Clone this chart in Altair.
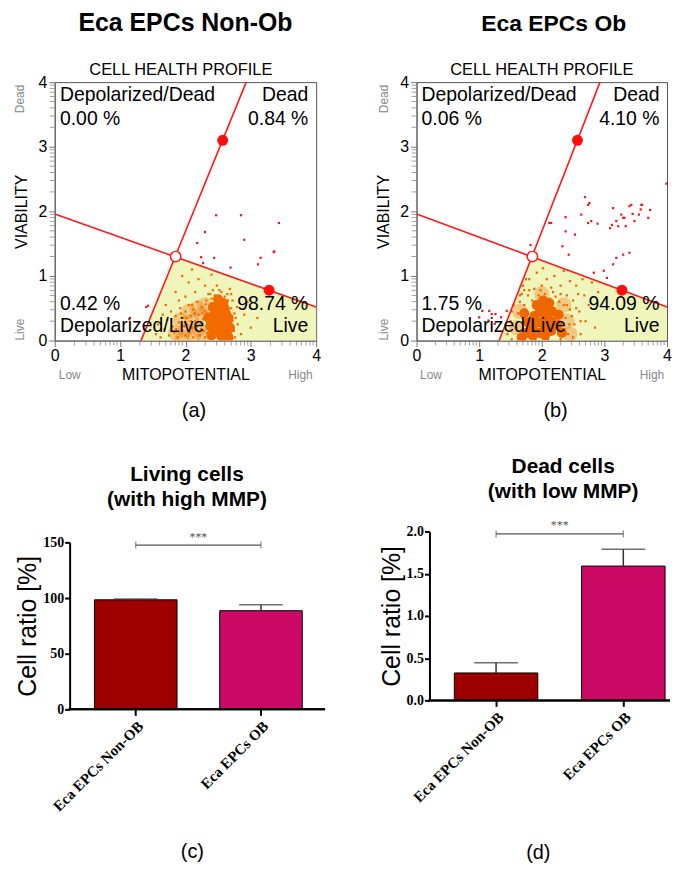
import altair as alt
import pandas as pd

SANS = "Liberation Sans"
SERIF = "Liberation Serif"

# ---------------- (a) / (b) : cell health profile ----------------
axis_values = [0, 1, 2, 3, 4]
minor_offsets = [0.301, 0.477, 0.602, 0.699, 0.778, 0.845, 0.903, 0.954]
minor_ticks = [k + m for k in [0, 1, 2, 3] for m in minor_offsets]

gate_id = ["h", "h", "v", "v"]
gate_x = [0.00, 4.00, 1.32, 2.93]
gate_y = [1.96, 0.52, 0.00, 4.00]
live_x = [1.32, 1.85, 4.00]
live_y = [0.00, 1.30, 0.52]
handle_x = [2.57, 3.28]
handle_y = [3.10, 0.78]
cross_x = [1.85]
cross_y = [1.30]

quad_names = ["Depolarized/Dead", "Dead", "Depolarized/Live", "Live"]
quad_x = [0.08, 3.88, 0.08, 3.88]
quad_align = ["left", "right", "left", "right"]
name_y = [3.80, 3.80, 0.23, 0.23]
pct_y = [3.43, 3.43, 0.56, 0.56]
pct_a = ["0.00 %", "0.84 %", "0.42 %", "98.74 %"]
pct_b = ["0.06 %", "4.10 %", "1.75 %", "94.09 %"]

# dense core of live cells (a)
a_core = [(2.55, 0.07), (2.55, 0.20), (2.55, 0.33), (2.56, 0.46), (2.58, 0.58), (2.47, 0.14),
          (2.46, 0.28), (2.45, 0.42), (2.63, 0.12), (2.63, 0.27), (2.62, 0.42), (2.40, 0.08),
          (2.38, 0.22), (2.66, 0.05), (2.50, 0.64), (2.35, 0.36), (2.52, 0.52), (2.60, 0.50),
          (2.42, 0.52), (2.68, 0.20), (2.66, 0.35), (2.50, 0.38), (2.58, 0.25)]
a_halo = [(2.00, 0.15), (2.10, 0.30), (2.20, 0.18), (2.25, 0.40), (2.12, 0.08), (1.92, 0.32),
          (2.28, 0.05), (2.05, 0.45), (1.85, 0.12), (2.30, 0.55), (2.18, 0.50), (1.95, 0.05)]
a_live = [(1.62, 0.05), (1.68, 0.18), (1.72, 0.32), (1.75, 0.08), (1.78, 0.45), (1.80, 0.22),
          (1.83, 0.12), (1.85, 0.38), (1.88, 0.05), (1.90, 0.28), (1.92, 0.50), (1.95, 0.15),
          (1.97, 0.35), (2.00, 0.08), (2.00, 0.45), (2.02, 0.25), (2.05, 0.55), (2.06, 0.12),
          (2.08, 0.38), (2.10, 0.20), (2.12, 0.05), (2.12, 0.48), (2.15, 0.30), (2.17, 0.15),
          (2.18, 0.60), (2.20, 0.40), (2.22, 0.08), (2.23, 0.25), (2.25, 0.52), (2.27, 0.33),
          (2.28, 0.15), (2.30, 0.45), (2.30, 0.05), (2.32, 0.62), (2.33, 0.28), (2.35, 0.72),
          (2.36, 0.50), (2.40, 0.65), (2.42, 0.78), (2.45, 0.70), (2.48, 0.85), (2.55, 0.75),
          (2.60, 0.68), (2.65, 0.62), (2.70, 0.50), (2.72, 0.30), (2.74, 0.15), (2.75, 0.42),
          (2.80, 0.25), (2.85, 0.10), (2.70, 0.72), (2.30, 0.85), (2.15, 0.75), (2.00, 0.68),
          (1.90, 0.62), (1.85, 0.75), (2.05, 0.90), (2.20, 0.95), (1.95, 1.00), (2.10, 1.10),
          (2.40, 1.02), (1.70, 0.55), (1.65, 0.40), (1.58, 0.25), (1.55, 0.10), (2.90, 0.40),
          (3.00, 0.20), (3.10, 0.35), (2.95, 0.60), (1.93, 0.42), (2.08, 0.30), (2.18, 0.22),
          (2.26, 0.42), (2.02, 0.35), (1.86, 0.18), (2.14, 0.42), (2.24, 0.18), (1.98, 0.22),
          (2.10, 0.55), (2.34, 0.38), (2.77, 0.35), (2.76, 0.05), (2.72, 0.62), (2.64, 0.72),
          (2.52, 0.78), (2.38, 0.72), (2.33, 0.12), (2.31, 0.56), (2.79, 0.52), (2.68, 0.80)]
a_red = [(2.47, 1.94), (2.85, 1.94), (3.43, 1.82), (2.30, 1.68), (2.90, 1.56), (2.18, 1.51),
         (3.36, 1.38), (3.15, 1.28), (2.24, 1.29), (2.44, 1.28), (1.40, 0.52), (1.14, 0.33),
         (2.27, 1.20), (2.69, 1.13), (3.11, 1.18), (3.35, 1.37), (1.43, 0.54)]

# dense core of live cells (b)
b_core = [(1.75, 0.12), (1.78, 0.28), (1.85, 0.08), (1.85, 0.22), (1.88, 0.38), (1.95, 0.12),
          (1.95, 0.28), (1.97, 0.45), (2.05, 0.08), (2.05, 0.22), (2.05, 0.38), (2.07, 0.52),
          (2.15, 0.15), (2.15, 0.30), (2.17, 0.45), (2.25, 0.25), (2.27, 0.40), (1.68, 0.05),
          (2.32, 0.12), (1.72, 0.42), (1.92, 0.55), (2.02, 0.62), (2.12, 0.58)]
b_halo = [(1.60, 0.20), (2.40, 0.30), (2.00, 0.72), (1.65, 0.45), (2.35, 0.55), (2.45, 0.10)]
b_live = [(1.45, 0.10), (1.50, 0.30), (1.55, 0.55), (1.58, 0.20), (1.65, 0.70), (1.62, 0.42),
          (1.65, 0.60), (1.70, 0.85), (1.72, 0.55), (1.78, 0.70), (1.80, 0.95), (1.85, 0.62),
          (1.88, 0.80), (1.92, 1.05), (1.95, 0.70), (2.00, 0.85), (2.05, 0.72), (2.08, 0.95),
          (2.12, 0.65), (2.15, 0.82), (2.20, 1.00), (2.22, 0.68), (2.28, 0.60), (2.30, 0.85),
          (2.35, 0.55), (2.38, 0.35), (2.40, 0.70), (2.42, 0.10), (2.45, 0.48), (2.50, 0.62),
          (2.52, 0.25), (2.55, 0.85), (2.60, 0.45), (2.62, 0.10), (2.68, 0.70), (2.70, 0.30),
          (2.75, 0.55), (2.80, 0.90), (2.85, 0.20), (2.90, 0.75), (2.50, 0.05), (2.30, 0.02),
          (2.10, 0.02), (1.90, 0.02), (1.70, 0.02), (1.52, 0.02), (2.45, 0.92), (2.65, 0.95),
          (2.35, 1.08), (2.02, 1.12), (1.75, 0.95), (1.72, 0.78), (2.58, 0.72), (2.44, 0.25),
          (2.40, 0.55), (1.52, 0.45), (1.48, 0.15), (2.30, 0.72), (2.18, 0.75), (1.98, 0.78),
          (1.80, 0.78), (1.68, 0.72), (2.48, 0.38), (2.55, 0.50), (2.36, 0.18), (2.62, 0.30)]
b_red = [(3.60, 2.10), (3.45, 1.96), (3.30, 1.90), (2.74, 2.10), (2.69, 2.22), (2.38, 1.91),
         (2.12, 1.82), (3.14, 2.05), (3.40, 2.08), (3.55, 1.95), (3.70, 1.90), (2.79, 1.85),
         (2.89, 1.81), (2.38, 1.69), (2.53, 1.64), (2.33, 1.46), (3.19, 1.28), (3.30, 1.33),
         (3.40, 1.36), (3.14, 1.18), (2.99, 1.08), (2.83, 1.05), (3.04, 0.97), (3.99, 2.43),
         (1.82, 1.48), (3.27, 1.95), (3.58, 2.03), (3.48, 1.85), (3.43, 2.10), (3.34, 1.77),
         (3.19, 1.85), (2.63, 1.95), (2.74, 1.82), (3.09, 1.74), (2.43, 1.33), (3.32, 1.90),
         (3.73, 2.02), (3.59, 2.10), (3.22, 1.77), (3.12, 1.79), (2.76, 2.13), (2.15, 1.82),
         (1.05, 0.46), (1.20, 0.41), (1.35, 0.36), (1.15, 0.31), (1.25, 0.26), (1.00, 0.36),
         (1.44, 0.46), (1.16, 0.46), (1.26, 0.41)]

# ---------------- (c) / (d) : bar charts ----------------
groups = ["Eca EPCs Non-OB", "Eca EPCs OB"]
bar_colors = ["#9e0000", "#cc0a66"]
living_mean = [98.4, 88.6]
living_upper = [99.2, 93.9]
dead_mean = [0.325, 1.59]
dead_upper = [0.447, 1.79]


def pts(lst):
    return pd.DataFrame({"x": [p[0] for p in lst], "y": [p[1] for p in lst]})


def flow_panel(title, title_size, title_dx, pcts, core, halo, live, red, tag, tag_x, width, orange, sub_x):
    xs = alt.Scale(domain=[0, 4], nice=False, zero=False)
    ys = alt.Scale(domain=[0, 4], nice=False, zero=False)
    common = dict(grid=False, labelFont=SANS, labelFontSize=16, labelColor="black",
                  labelFlush=False, tickSize=6, tickColor="#777", domainColor="#666",
                  titleFont=SANS, titleFontSize=16, titleFontWeight="normal", titleColor="black")
    xax = alt.Axis(values=axis_values, title="MITOPOTENTIAL", labelPadding=1, titlePadding=3, **common)
    yax = alt.Axis(values=axis_values, title="VIABILITY", labelPadding=2, titlePadding=8, **common)

    def enc(**kw):
        d = dict(x=alt.X("x", type="quantitative", scale=xs, axis=xax),
                 y=alt.Y("y", type="quantitative", scale=ys, axis=yax))
        d.update(kw)
        return d

    region = alt.Chart(pd.DataFrame({"x": live_x, "y": live_y})).mark_area(
        color="#eff5bb", interpolate="linear").encode(**enc())
    halo_l = alt.Chart(pts(halo)).mark_circle(size=240, color=orange, opacity=0.3, clip=True).encode(**enc())
    core_l = alt.Chart(pts(core)).mark_circle(size=105, color=orange, opacity=1, clip=True).encode(**enc())
    live_l = alt.Chart(pts(live)).mark_square(size=5, color=orange, opacity=1).encode(**enc())
    red_l = alt.Chart(pts(red)).mark_square(size=5, color="#f01818", opacity=1).encode(**enc())
    gates = alt.Chart(pd.DataFrame({"x": gate_x, "y": gate_y, "id": gate_id})).mark_line(
        color="#ff1a1a", strokeWidth=1.6).encode(**enc(detail="id:N"))
    handles = alt.Chart(pd.DataFrame({"x": handle_x, "y": handle_y})).mark_circle(
        size=120, color="#ff0d0d", opacity=1).encode(**enc())
    cross = alt.Chart(pd.DataFrame({"x": cross_x, "y": cross_y})).mark_point(
        shape="circle", size=110, filled=True, fill="white", stroke="#ff1a1a",
        strokeWidth=1.5, opacity=1).encode(**enc())

    txt_layers = []
    for al in ["left", "right"]:
        idx = [i for i in range(4) if quad_align[i] == al]
        df = pd.DataFrame({"x": [quad_x[i] for i in idx] * 2,
                           "y": [name_y[i] for i in idx] + [pct_y[i] for i in idx],
                           "t": [quad_names[i] for i in idx] + [pcts[i] for i in idx]})
        txt_layers.append(alt.Chart(df).mark_text(
            font=SANS, fontSize=19.5, color="black", align=al, baseline="middle").encode(**enc(text="t:N")))

    mx = alt.Chart(pd.DataFrame({"x": minor_ticks, "y": [0] * len(minor_ticks)})).mark_tick(
        orient="vertical", size=5, thickness=1, color="#777", yOffset=2.5).encode(**enc())
    my = alt.Chart(pd.DataFrame({"x": [0] * len(minor_ticks), "y": minor_ticks})).mark_tick(
        orient="horizontal", size=5, thickness=1, color="#777", xOffset=-2.5).encode(**enc())

    subtitle = alt.Chart(pd.DataFrame({"x": [sub_x], "y": [4.185], "t": ["CELL HEALTH PROFILE"]})).mark_text(
        font=SANS, fontSize=16.5, color="black", baseline="middle").encode(**enc(text="t:N"))
    lowhigh = alt.Chart(pd.DataFrame({"x": [0.23, 3.76], "y": [-0.54, -0.54], "t": ["Low", "High"]})).mark_text(
        font=SANS, fontSize=12, color="#888", baseline="middle").encode(**enc(text="t:N"))
    deadlive = alt.Chart(pd.DataFrame({"x": [-0.525, -0.525], "y": [3.74, 0.17], "t": ["Dead", "Live"]})).mark_text(
        font=SANS, fontSize=12, color="#888", angle=270, baseline="middle").encode(**enc(text="t:N"))
    tag_l = alt.Chart(pd.DataFrame({"x": [tag_x], "y": [-1.09], "t": [tag]})).mark_text(
        font=SANS, fontSize=20, color="black", baseline="middle").encode(**enc(text="t:N"))

    return alt.layer(region, halo_l, core_l, live_l, red_l, gates, handles, cross,
                     *txt_layers, mx, my, subtitle, lowhigh, deadlive, tag_l).properties(
        width=width, height=260,
        view=alt.ViewBackground(stroke="#555", strokeWidth=1),
        title=alt.Title(text=title, font=SANS, fontSize=title_size, fontWeight="bold", color="black",
                        offset=26, anchor="middle", frame="group", dx=title_dx))


def bar_panel(title_lines, title_dx, means, uppers, ydomain, yvals, yfmt, bracket_y, star_y, tag, tag_x,
              tag_pad, width, height, axis_shift, pin, pout, align, title_offset, star_dx):
    xs = alt.Scale(domain=groups, paddingInner=pin, paddingOuter=pout, align=align)
    ys = alt.Scale(domain=ydomain, nice=False, zero=True)
    xax = alt.Axis(labelAngle=-45, labelFont=SERIF, labelFontWeight="bold", labelFontSize=15,
                   labelColor="black", labelPadding=3, domain=False,
                   tickColor="black", tickWidth=2, tickSize=6, grid=False,
                   title=tag, titleFont=SANS, titleFontSize=20, titleFontWeight="normal",
                   titleColor="black", titleX=tag_x, titlePadding=tag_pad)
    yax = alt.Axis(values=yvals, format=yfmt, labelFont=SERIF, labelFontWeight="bold", labelFontSize=14,
                   labelColor="black", labelPadding=1, domainColor="black", domainWidth=2,
                   tickColor="black", tickWidth=2, tickSize=5, grid=False, labelFlush=False,
                   offset=-axis_shift,
                   title="Cell ratio [%]", titleFont=SANS, titleFontSize=25, titleFontWeight="normal",
                   titleColor="black", titlePadding=2)

    def X(center=True):
        if center:
            return alt.X("g:N", scale=xs, axis=xax, bandPosition=0.5)
        return alt.X("g:N", scale=xs, axis=xax)

    def Y(f):
        return alt.Y(f, type="quantitative", scale=ys, axis=yax)

    df = pd.DataFrame({"g": groups, "v": means, "e": uppers})
    bars = alt.Chart(df).mark_bar(stroke="black", strokeWidth=1).encode(
        x=X(False), y=Y("v"),
        color=alt.Color("g:N", scale=alt.Scale(domain=groups, range=bar_colors), legend=None))
    baseline = alt.Chart(df).mark_rule(color="black", strokeWidth=2).encode(
        x=alt.value(axis_shift - 1), x2=alt.value(width), y=alt.YDatum(0, scale=ys, axis=yax))
    err = alt.Chart(df).mark_rule(color="#333", strokeWidth=1.5).encode(x=X(), y=Y("v"), y2="e")
    caps = alt.Chart(df).mark_tick(color="#333", size=44, thickness=1.5, orient="horizontal").encode(x=X(), y=Y("e"))
    bdf = pd.DataFrame({"g": groups, "b": [bracket_y, bracket_y]})
    br_line = alt.Chart(bdf).mark_line(color="#555", strokeWidth=1.2).encode(x=X(), y=Y("b"))
    br_caps = alt.Chart(bdf).mark_tick(color="#555", size=7, thickness=1.2, orient="vertical").encode(x=X(), y=Y("b"))
    stars = alt.Chart(pd.DataFrame({"g": [groups[0]], "s": [star_y], "t": ["***"]})).mark_text(
        font=SERIF, fontSize=12, color="#555", dx=star_dx, baseline="middle").encode(x=X(), y=Y("s"), text="t:N")

    return alt.layer(bars, baseline, err, caps, br_line, br_caps, stars).properties(
        width=width, height=height,
        view=alt.ViewBackground(stroke=None),
        title=alt.Title(text=title_lines, font=SANS, fontSize=21, fontWeight="bold", color="black",
                        lineHeight=25, anchor="middle", frame="group", offset=title_offset, dx=title_dx))


panel_a = flow_panel("Eca EPCs Non-Ob", 25, 0, pct_a, a_core, a_halo, a_live, a_red, "(a)", 2.13, 263,
                     "#f26a00", 1.93)
panel_b = flow_panel("Eca EPCs Ob", 23, 12, pct_b, b_core, b_halo, b_live, b_red, "(b)", 2.22, 252,
                     "#f06600", 2.0)
panel_c = bar_panel(["Living cells", "(with high MMP)"], -3, living_mean, living_upper, [0, 150],
                    [0, 50, 100, 150], "d", 147.6, 155, "(c)", 138, 28, 272, 168, 15,
                    0.341, 0.25, 0.635, 21, 63)
panel_d = bar_panel(["Dead cells", "(with low MMP)"], 20, dead_mean, dead_upper, [0, 2],
                    [0, 0.5, 1.0, 1.5, 2.0], ".1f", 1.97, 2.07, "(d)", 122, 38, 255, 170, 13,
                    0.344, 0.168, 0.884, 18, 64)

col1 = alt.vconcat(panel_a, panel_c, spacing=42)
col2 = alt.vconcat(panel_b, panel_d, spacing=34)
chart = alt.hconcat(col1, col2, spacing=49).properties(
    padding={"left": 5, "top": 0, "right": 0, "bottom": 0},
    background="white",
).configure_view(stroke=None)

chart.save("out.html", embed_options={"renderer": "svg", "actions": False})
